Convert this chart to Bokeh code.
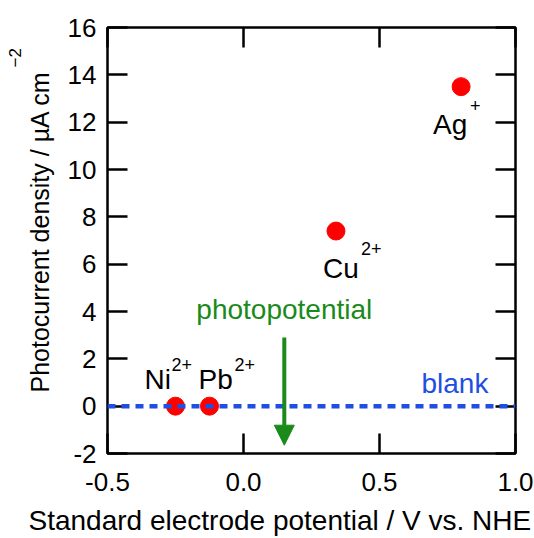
import math
from bokeh.plotting import figure
from bokeh.models import (Range1d, FixedTicker, PrintfTickFormatter, LinearAxis,
                          Span, Arrow, NormalHead, Title, ColumnDataSource)
from bokeh.core.properties import value
from bokeh.embed import file_html
from bokeh.resources import INLINE

# ---------------- data ----------------
ions = ["Ni", "Pb", "Cu", "Ag"]
charges = ["2+", "2+", "2+", "+"]
potential = [-0.25, -0.125, 0.34, 0.80]      # V vs. NHE
photocurrent = [0.0, 0.0, 7.4, 13.5]        # µA cm^-2
blank_level = 0.0
photopotential = 0.15
arrow_top = 2.9
arrow_bottom = -1.65

x_ticks = [-0.5, 0.0, 0.5, 1.0]
y_ticks = [-2, 0, 2, 4, 6, 8, 10, 12, 14, 16]

x_title = "Standard electrode potential / V vs. NHE"
y_title = "Photocurrent density / µA cm"
y_title_sup = "\u22122"

# ---------------- styles ----------------
FONT = "Liberation Sans"
ion_dx = [-31, -11, -13, -28]
ion_dy = [-27, -27, 37, 38]
sup_dx = [-4, 25, 25, 9]
sup_dy = [-42, -42, 17, 19]

p = figure(width=534, height=538, x_range=Range1d(-0.5, 1.0), y_range=Range1d(-2, 16),
           output_backend="svg", toolbar_location=None,
           min_border_left=107, min_border_right=19, min_border_top=27, min_border_bottom=85)
p.grid.visible = False
p.outline_line_color = "black"
p.outline_line_width = 2.5
p.background_fill_color = "white"
p.border_fill_color = "white"

for ax in (p.xaxis[0], p.yaxis[0]):
    ax.major_tick_in = 20
    ax.major_tick_out = 0
    ax.minor_tick_line_color = None
    ax.major_tick_line_width = 2.5
    ax.major_tick_line_color = "black"
    ax.axis_line_color = None
    ax.major_label_text_font = FONT
    ax.major_label_text_font_size = "26px"
    ax.major_label_text_color = "black"

p.xaxis.ticker = FixedTicker(ticks=x_ticks)
p.xaxis.formatter = PrintfTickFormatter(format="%.1f")
p.xaxis.major_label_standoff = 19

p.yaxis.ticker = FixedTicker(ticks=y_ticks)
p.yaxis.formatter = PrintfTickFormatter(format="%d")
p.yaxis.major_label_standoff = 11

right = LinearAxis(ticker=FixedTicker(ticks=y_ticks))
top = LinearAxis(ticker=FixedTicker(ticks=x_ticks))
for ax in (right, top):
    ax.major_tick_in = 20
    ax.major_tick_out = 0
    ax.minor_tick_line_color = None
    ax.major_tick_line_width = 2.5
    ax.axis_line_color = None
    ax.major_label_text_font_size = "0px"
    ax.major_label_standoff = 0
p.add_layout(right, "right")
p.add_layout(top, "above")

# axis titles (side panels)
p.add_layout(Title(text=x_title, align="left", offset=-79, standoff=-84, vertical_align="bottom",
                   text_font=FONT, text_font_style="normal", text_font_size="28px",
                   text_color="black"), "below")
p.add_layout(Title(text=y_title, align="left", offset=61, standoff=20, vertical_align="middle",
                   text_font=FONT, text_font_style="normal", text_font_size="25px",
                   text_color="black"), "left")
p.add_layout(Title(text=y_title_sup, align="left", offset=386, standoff=-52,
                   vertical_align="middle", text_font=FONT, text_font_style="normal",
                   text_font_size="17px", text_color="black"), "left")

# blank dashed line
p.add_layout(Span(location=blank_level, dimension="width", line_color="#1f4fe0",
                  line_width=4.5, line_dash="8 6"))

# photopotential arrow
p.add_layout(Arrow(x_start=photopotential, y_start=arrow_top, x_end=photopotential, y_end=arrow_bottom,
                   line_color="#1a8a1a", line_width=4,
                   end=NormalHead(size=20, fill_color="#1a8a1a", line_color="#1a8a1a", line_width=1)))
p.text(x=[photopotential], y=[arrow_top], text=["photopotential"], text_align="center",
       text_baseline="alphabetic", y_offset=-28, text_font=value(FONT), text_font_size="28px",
       text_color="#1a8a1a")
p.text(x=[1.0], y=[blank_level], text=["blank"], text_align="left", text_baseline="alphabetic",
       x_offset=-94, y_offset=-23, text_font=value(FONT), text_font_size="28px", text_color="#1f4fe0")

src = ColumnDataSource(dict(x=potential, y=photocurrent, ion=ions, charge=charges,
                            idx=ion_dx, idy=ion_dy, sdx=sup_dx, sdy=sup_dy))
p.scatter(x="x", y="y", source=src, size=18, fill_color="#ff0000", line_color="#ff0000")
p.text(x="x", y="y", text="ion", source=src, x_offset="idx", y_offset="idy",
       text_align="left", text_baseline="alphabetic", text_font=value(FONT),
       text_font_size="28px", text_color="black")
p.text(x="x", y="y", text="charge", source=src, x_offset="sdx", y_offset="sdy",
       text_align="left", text_baseline="alphabetic", text_font=value(FONT),
       text_font_size="18px", text_color="black")

open("out.html", "w").write(file_html(p, INLINE))
